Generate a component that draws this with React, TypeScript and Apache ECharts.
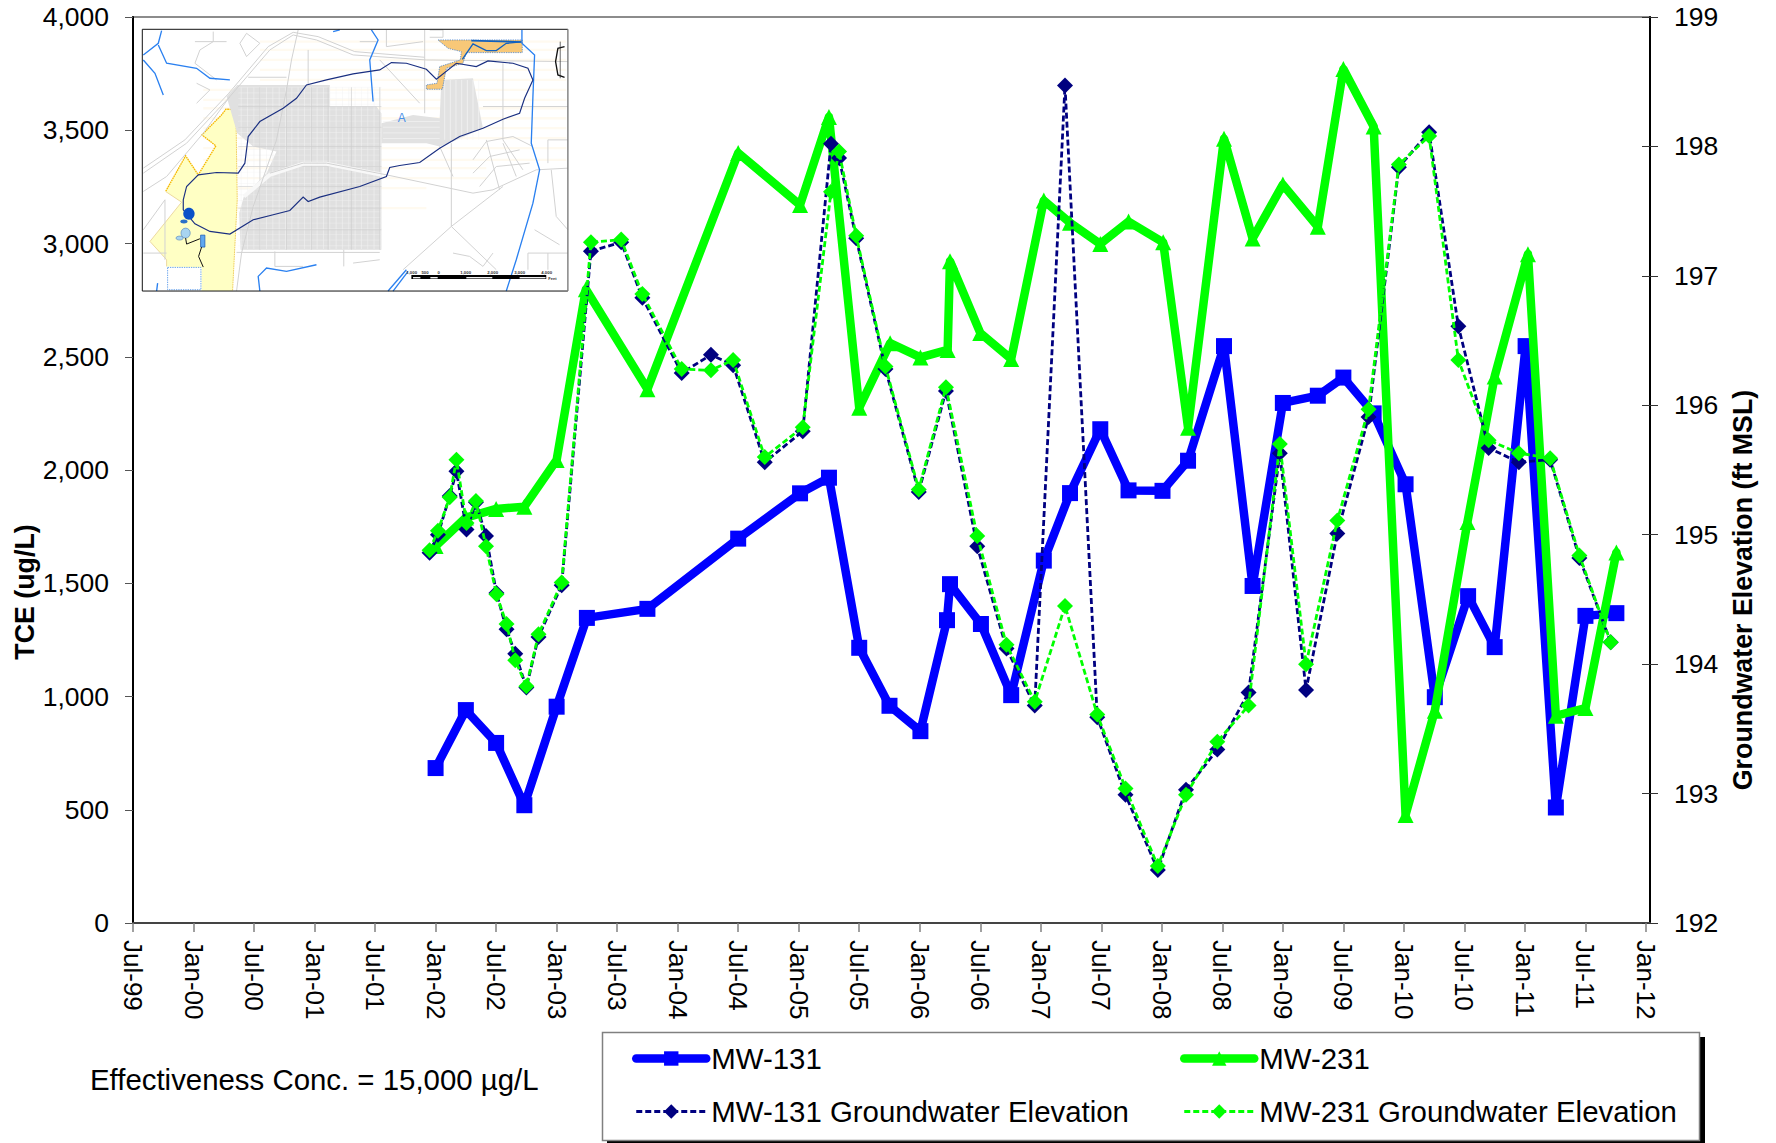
import React, { useEffect, useRef } from "react";
import * as echarts from "echarts";

const xTickLabels = ["Jul-99","Jan-00","Jul-00","Jan-01","Jul-01","Jan-02","Jul-02","Jan-03","Jul-03","Jan-04","Jul-04","Jan-05","Jul-05","Jan-06","Jul-06","Jan-07","Jul-07","Jan-08","Jul-08","Jan-09","Jul-09","Jan-10","Jul-10","Jan-11","Jul-11","Jan-12"];

const mw131Dates = ["2002-01-01","2002-04-01","2002-07-01","2002-09-25","2003-01-01","2003-04-01","2003-10-01","2004-07-01","2005-01-05","2005-04-01","2005-07-01","2005-10-01","2006-01-03","2006-03-22","2006-04-01","2006-07-03","2006-10-03","2007-01-10","2007-03-28","2007-06-28","2007-09-22","2008-01-03","2008-03-19","2008-07-06","2008-10-01","2009-01-01","2009-04-15","2009-07-01","2009-10-01","2010-01-06","2010-04-03","2010-07-12","2010-10-01","2011-01-03","2011-04-03","2011-07-01","2011-10-03"];
const mw131Tce = [684,940,795,520,955,1347,1387,1697,1897,1966,1215,959,847,1337,1496,1320,1006,1600,1898,2180,1910,1908,2041,2547,1488,2296,2328,2408,2250,1937,997,1443,1218,2547,510,1356,1368];

const mw231Dates = ["2002-01-01","2002-04-01","2002-07-01","2002-09-25","2003-01-01","2003-03-28","2003-10-01","2004-07-01","2005-01-05","2005-04-01","2005-07-01","2005-10-03","2006-01-03","2006-03-24","2006-04-01","2006-07-01","2006-10-03","2007-01-10","2007-03-28","2007-06-28","2007-09-22","2008-01-05","2008-03-19","2008-07-06","2008-10-01","2009-01-01","2009-04-15","2009-07-01","2009-10-01","2010-01-06","2010-04-03","2010-07-10","2010-10-01","2011-01-10","2011-04-03","2011-07-01","2011-10-03"];
const mw231Tce = [1664,1790,1828,1838,2044,2798,2357,3400,3170,3559,2275,2560,2497,2530,2922,2605,2490,3190,3092,2998,3097,3005,2187,3463,3022,3260,3074,3770,3517,477,937,1770,2413,2953,915,949,1636];

const gwDates = ["2001-12-13","2002-01-08","2002-02-13","2002-03-03","2002-04-03","2002-05-01","2002-06-01","2002-07-02","2002-08-02","2002-08-28","2002-10-01","2002-11-07","2003-01-16","2003-04-13","2003-07-13","2003-09-16","2004-01-13","2004-04-10","2004-06-16","2004-09-20","2005-01-13","2005-04-07","2005-05-01","2005-06-22","2005-09-19","2005-12-28","2006-03-19","2006-06-22","2006-09-19","2006-12-13","2007-03-13","2007-06-19","2007-09-13","2007-12-19","2008-03-13","2008-06-16","2008-09-19","2008-12-22","2009-03-10","2009-06-13","2009-09-16","2009-12-16","2010-03-16","2010-06-13","2010-09-13","2010-12-13","2011-03-16","2011-06-13","2011-09-16"];
const mw131Elev = [194.86,195.0,195.3,195.49,195.04,195.25,194.99,194.55,194.27,194.08,193.82,194.21,194.61,197.19,197.26,196.83,196.25,196.39,196.31,195.56,195.8,198.02,197.91,197.29,196.28,195.33,196.11,194.91,194.12,193.68,198.47,193.59,192.99,192.41,193.03,193.34,193.78,195.63,193.8,195.01,195.91,197.84,198.11,196.61,195.67,195.56,195.58,194.82,194.17];
const mw231Elev = [194.88,195.03,195.29,195.58,195.09,195.26,194.91,194.54,194.31,194.03,193.83,194.23,194.63,197.26,197.28,196.86,196.28,196.27,196.35,195.6,195.83,197.65,197.96,197.31,196.3,195.35,196.14,194.99,194.15,193.71,194.45,193.61,193.04,192.44,192.99,193.4,193.68,195.7,194.0,195.11,195.97,197.86,198.08,196.35,195.73,195.63,195.59,194.84,194.17];

const FONT = "Liberation Sans";

const toMonths = (d: string) => {
  const [y, m, day] = d.split("-").map(Number);
  return (y - 1999) * 12 + (m - 7) + (day - 1) / 30;
};
const pairs = (ds: string[], vs: number[]) => ds.map((d, i) => [toMonths(d), vs[i]]);
const tickMonths = xTickLabels.map((_, i) => i * 6);

const line = (pts: number[][], stroke: string, lineWidth = 3, extra: any = {}) => ({
  type: "polyline",
  shape: { points: pts },
  style: { stroke, lineWidth, fill: null, ...extra },
});
const poly = (pts: number[][], fill: string, stroke?: string, lineWidth = 3, extra: any = {}) => ({
  type: "polygon",
  shape: { points: pts },
  style: { fill, stroke: stroke || null, lineWidth, ...extra },
});

const ROAD = "#d2d2d2";
const STREAM = "#2a80f0";

function insetChildren() {
  const c: any[] = [];
  c.push({ type: "rect", shape: { x: 67, y: 88, width: 1278, height: 786 }, style: { fill: "#fff", stroke: null } });
  for (const y of [125, 150, 180, 210, 240, 270, 300, 325, 355, 385, 415, 445, 480, 505, 535, 565, 625]) {
    const x0 = y < 250 ? 420 : 250;
    const x1 = y > 500 ? (y > 560 ? 920 : 1100) : 1340;
    c.push(line([[x0, y], [x1, y]], "#fffaf0", 7));
  }
  // yellow land parcel
  c.push(poly([[318,328],[348,328],[352,600],[338,874],[245,874],[245,803],[140,800],[140,780],[90,725],[185,607],[137,575],[197,468],[235,525],[288,438],[246,405],[305,345]], "#ffffc4"));
  c.push(line([[348,328],[318,328],[305,345],[246,405],[288,438],[235,525],[197,468],[137,575]], "#f5b800", 4, { lineDash: [5, 2] }));
  c.push(line([[137,575],[185,607],[90,725],[140,780],[140,800]], "#ecd9a0", 3));
  c.push(line([[348,328],[352,600],[338,874]], "#f0d060", 3, { lineDash: [5, 2] }));
  // urban grey fabric
  c.push(poly([[320,290],[352,255],[630,255],[630,320],[770,320],[785,340],[785,750],[362,750],[358,640],[372,590],[440,520],[470,455],[400,440],[352,400]], "#e0e0e0"));
  c.push(poly([[785,370],[880,345],[960,355],[965,240],[1060,235],[1090,385],[1000,425],[960,440],[920,430],[785,430]], "#e2e2e2"));
  for (let x = 364; x < 785; x += 19) c.push(line([[x, 262], [x, 748]], "#f4f4f4", 1.6));
  for (let y = 262; y < 750; y += 17) c.push(line([[355, y], [785, y]], "#f2f2f2", 1.2));
  for (const y of [320, 382, 440, 500, 560, 625, 690]) c.push(line([[355, y], [785, y]], "#cfcfcf", 2));
  for (const x of [420, 500, 575, 625, 695, 780]) c.push(line([[x, 262], [x, 750]], "#cfcfcf", 2));
  for (let x = 975; x < 1085; x += 17) c.push(line([[x, 240], [x, 420]], "#f6f6f6", 2));
  for (let y = 365; y < 430; y += 17) c.push(line([[790, y], [960, y]], "#f4f4f4", 2));
  c.push(line([[372,590],[450,525],[550,492],[620,492],[785,525]], "#f8f8f8", 12));
  // roads
  const roads = [
    [[70,520],[200,430],[330,290],[450,150],[520,105],[590,120],[700,165],[920,180],[1345,185]],
    [[70,505],[195,420],[325,282],[445,140],[520,97],[595,110],[705,155],[915,172]],
    [[70,575],[140,530],[250,400],[330,290]],
    [[535,90],[515,180],[500,270],[470,420],[400,620],[365,760],[350,874]],
    [[70,690],[135,600],[135,780]],
    [[450,520],[550,490],[620,490],[800,525],[1060,580],[1120,570],[1250,510],[1345,505]],
    [[995,680],[1150,560]],[[995,680],[850,810]],[[995,680],[1130,810]],[[995,680],[995,430]],
    [[915,90],[915,340]],[[780,180],[900,310]],[[1150,190],[1150,420],[1210,510]],
    [[1345,320],[1090,320]],[[225,125],[320,125]],[[280,95],[280,125],[240,150],[225,190],[290,240]],
    [[380,100],[360,130],[380,170],[420,130],[380,100]],[[565,150],[565,255]],[[720,125],[770,125]],[[800,90],[800,140],[910,125]],
    [[1000,760],[1050,770],[1090,800],[1120,760]],[[1225,760],[1345,760]],[[1225,760],[1225,810]],[[1285,760],[1285,810]],
    [[70,760],[140,760]],[[350,758],[780,758]],[[1285,420],[1345,420]],[[1285,420],[1285,490]],
    [[1295,510],[1310,650],[1345,690]],[[1245,690],[1320,735]],[[465,755],[465,800],[550,800]],[[672,750],[672,800]],[[700,790],[780,780]],
    [[1060,480],[1100,425],[1180,410],[1240,440]],[[1060,520],[1110,470],[1200,450]],[[1080,560],[1130,500],[1230,490]],
    [[1100,420],[1140,570]],[[1150,430],[1190,530]],[[960,440],[1000,530]],[[230,250],[270,270],[230,310]],
    [[385,232],[500,232]],[[930,90],[970,90],[970,112],[930,112]],
  ];
  roads.forEach((r) => c.push(line(r, ROAD, 3)));
  // orange project area
  c.push(poly([[955,120],[1208,120],[1208,158],[1040,158],[1030,190],[980,205],[968,268],[920,268],[920,255],[952,250],[960,200],[1022,180],[1025,155],[985,145]], "#f8c878", "#2a70c8", 2, { lineDash: [4, 3] }));
  // streams
  const streams = [
    [[1207,90],[1207,130],[1245,165],[1240,290],[1235,430],[1260,510],[1240,610],[1190,780],[1160,874]],
    [[755,90],[775,120],[750,180],[760,305]],
    [[125,92],[115,130],[70,165]],[[70,180],[105,220],[130,285]],[[115,135],[140,190],[230,205],[270,235],[330,240]],
    [[420,874],[415,830],[440,805],[500,815],[590,795]],
    [[805,874],[860,810]],[[820,874],[865,815]],[[640,95],[660,90]],[[110,874],[113,850]],
  ];
  streams.forEach((s) => c.push(line(s, STREAM, 4)));
  c.push({ type: "rect", shape: { x: 143, y: 803, width: 100, height: 67 }, style: { fill: null, stroke: "#4a90e8", lineWidth: 2.5, lineDash: [4, 3] } });
  // monitoring contour
  c.push(line([[190,600],[200,560],[235,525],[290,518],[355,520],[375,490],[385,410],[420,365],[490,325],[530,295],[560,255],[620,240],[700,222],[780,210],[815,188],[860,190],[920,208],[950,238],[1010,190],[1070,200],[1105,183],[1180,190],[1225,205],[1240,240],[1215,295],[1200,340],[1150,358],[1090,385],[1020,410],[960,445],[900,488],[840,497],[810,503],[800,530],[720,560],[600,592],[565,605],[550,592],[510,632],[460,645],[400,660],[330,703],[270,695],[225,672],[190,630],[190,600]], "#1a2f80", 3.5));
  // ponds and pipes
  c.push({ type: "ellipse", shape: { cx: 207, cy: 642, rx: 17, ry: 18 }, style: { fill: "#0a50c8" } });
  c.push({ type: "ellipse", shape: { cx: 192, cy: 665, rx: 11, ry: 6 }, style: { fill: "#2a70c8" } });
  c.push({ type: "ellipse", shape: { cx: 197, cy: 700, rx: 14, ry: 15 }, style: { fill: "#a8d4f0", stroke: "#3a70b0", lineWidth: 1.5 } });
  c.push({ type: "ellipse", shape: { cx: 179, cy: 715, rx: 11, ry: 6 }, style: { fill: "#a8d4f0", stroke: "#3a70b0", lineWidth: 1.5 } });
  c.push({ type: "rect", shape: { x: 242, y: 706, width: 13, height: 36 }, style: { fill: "#60a8f0", stroke: "#1050b0", lineWidth: 2 } });
  c.push(line([[197,715],[200,733],[240,717]], "#111", 3));
  c.push(line([[245,742],[236,770],[250,802]], "#111", 3));
  c.push(line([[1055,122],[1205,126]], "#1060c0", 5));
  c.push(line([[1028,178],[1060,132],[1100,152],[1130,152],[1160,130],[1205,126]], "#1060c0", 4));
  // north arrow fragment
  c.push(line([[1335,140],[1315,145],[1308,185],[1315,225],[1335,232]], "#111", 4));
  c.push(line([[1322,125],[1322,235]], "#222", 2));
  c.push({ type: "text", x: 845, y: 355, style: { text: "A", fontFamily: FONT, fontSize: 36, fill: "#4a90e8", align: "center", verticalAlign: "middle" } });
  // scale bar
  c.push({ type: "rect", shape: { x: 875, y: 826, width: 405, height: 12 }, style: { fill: "#000" } });
  for (const [x, w] of [[880, 22], [932, 22], [1040, 78], [1200, 78]]) c.push({ type: "rect", shape: { x, y: 832, width: w, height: 4 }, style: { fill: "#fff" } });
  [["1,000", 875], ["500", 915], ["0", 956], ["1,000", 1037], ["2,000", 1118], ["3,000", 1199], ["4,000", 1280]].forEach(([t, x]) =>
    c.push({ type: "text", x, y: 817, style: { text: t, fontFamily: FONT, fontWeight: "bold", fontSize: 13, fill: "#333", align: "center", verticalAlign: "middle" } })
  );
  c.push({ type: "text", x: 1285, y: 835, style: { text: "Feet", fontFamily: FONT, fontWeight: "bold", fontSize: 12, fill: "#333", align: "left", verticalAlign: "middle" } });
  // frame
  c.push(line([[67,874],[67,88],[1345,88]], "#111", 3));
  c.push(line([[67,874],[1345,874]], "#111", 3));
  c.push(line([[1345,88],[1345,874]], "#777", 4));
  return c;
}

export default function App() {
  const ref = useRef<HTMLDivElement>(null);
  useEffect(() => {
    document.body.style.margin = "0";
    const chart = echarts.init(ref.current!, null, { renderer: "svg" });
    const axisText = { fontFamily: FONT, fontSize: 26.5, color: "#000" };
    const titleText = { fontFamily: FONT, fontSize: 26.8, fontWeight: "bold" as const, color: "#000" };
    const baseSeries = { type: "line", animation: false, silent: true, showAllSymbol: true, smooth: false };
    const legendBase = {
      top: 1044, orient: "vertical", padding: 0, itemWidth: 70, itemHeight: 18, itemGap: 24, selectedMode: false,
      lineStyle: { width: "inherit" },
      textStyle: { fontFamily: FONT, fontSize: 29.4, color: "#000" },
    };
    const dash = [6, 3];
    chart.setOption({
      animation: false,
      textStyle: { fontFamily: FONT },
      grid: { left: 133, right: 126, top: 17, bottom: 220, show: true, borderColor: "#8c8c8c", borderWidth: 2, backgroundColor: "#fff", outerBoundsMode: "none" },
      xAxis: {
        type: "value", min: 0, max: 150.4,
        splitLine: { show: false },
        axisLine: { show: true, lineStyle: { color: "#444", width: 2 } },
        axisTick: { show: true, length: 9, lineStyle: { color: "#808080", width: 1.5 }, customValues: tickMonths },
        axisLabel: {
          ...axisText, fontSize: 26, rotate: -90, margin: 17, customValues: tickMonths,
          formatter: (v: number) => xTickLabels[Math.round(v / 6)] ?? "",
        },
      },
      yAxis: [
        {
          type: "value", min: 0, max: 4000, interval: 500, position: "left",
          name: "TCE (ug/L)", nameLocation: "middle", nameRotate: 90, nameGap: 95, nameMoveOverlap: false,
          nameTextStyle: { ...titleText, padding: [0, 244, 0, 0] },
          splitLine: { show: false },
          axisLine: { show: true, lineStyle: { color: "#000", width: 2 } },
          axisTick: { show: true, length: 8, lineStyle: { color: "#555", width: 1 } },
          axisLabel: { ...axisText, margin: 24, formatter: (v: number) => v.toLocaleString("en-US") },
        },
        {
          type: "value", min: 192, max: 199, interval: 1, position: "right",
          name: "Groundwater Elevation (ft MSL)", nameLocation: "middle", nameRotate: 90, nameGap: 79, nameMoveOverlap: false,
          nameTextStyle: { ...titleText, padding: [0, 240, 0, 0] },
          splitLine: { show: false },
          axisLine: { show: true, lineStyle: { color: "#000", width: 2 } },
          axisTick: { show: true, length: 8, lineStyle: { color: "#333", width: 1 } },
          axisLabel: { ...axisText, margin: 24 },
        },
        {
          type: "value", min: 192, max: 199, interval: 1, position: "right",
          splitLine: { show: false },
          axisLine: { show: false },
          axisTick: { show: true, inside: true, length: 8, lineStyle: { color: "#333", width: 1 } },
          axisLabel: { show: false },
        },
      ],
      legend: [
        { ...legendBase, left: 632, data: ["MW-131", "MW-131 Groundwater Elevation"] },
        { ...legendBase, left: 1180, data: ["MW-231", "MW-231 Groundwater Elevation"] },
      ],
      graphic: [
        { type: "group", x: 120, y: 0, scaleX: 1 / 3, scaleY: 1 / 3, children: insetChildren(), silent: true },
        { type: "rect", shape: { x: 607, y: 1037, width: 1098, height: 110 }, style: { fill: "#000" }, silent: true },
        { type: "rect", shape: { x: 602.5, y: 1032.5, width: 1097, height: 108 }, style: { fill: "#fff", stroke: "#808080", lineWidth: 1.5 }, silent: true },
        { type: "text", x: 90, y: 1079, style: { text: "Effectiveness Conc. = 15,000 µg/L", fontFamily: FONT, fontSize: 29.4, fill: "#000", align: "left", verticalAlign: "middle" }, silent: true },
      ],
      series: [
        { ...baseSeries, name: "MW-131", yAxisIndex: 0, data: pairs(mw131Dates, mw131Tce), symbol: "rect", symbolSize: 16, itemStyle: { color: "#0000ff" }, lineStyle: { color: "#0000ff", width: 8.5, cap: "round", join: "round" }, z: 2 },
        { ...baseSeries, name: "MW-231", yAxisIndex: 0, data: pairs(mw231Dates, mw231Tce), symbol: "triangle", symbolSize: 16, itemStyle: { color: "#00ff00" }, lineStyle: { color: "#00ff00", width: 8.5, cap: "round", join: "round" }, z: 3 },
        { ...baseSeries, name: "MW-131 Groundwater Elevation", yAxisIndex: 1, data: pairs(gwDates, mw131Elev), symbol: "diamond", symbolSize: 16, itemStyle: { color: "#000080" }, lineStyle: { color: "#000080", width: 2.8, type: dash }, z: 4 },
        { ...baseSeries, name: "MW-231 Groundwater Elevation", yAxisIndex: 1, data: pairs(gwDates, mw231Elev), symbol: "diamond", symbolSize: 16, itemStyle: { color: "#00ff00" }, lineStyle: { color: "#00ff00", width: 2.8, type: dash }, z: 5 },
      ],
    });
    return () => chart.dispose();
  }, []);
  return <div ref={ref} style={{ position: "fixed", left: 0, top: 0, width: 1776, height: 1143, background: "#fff", overflow: "hidden" }} />;
}
